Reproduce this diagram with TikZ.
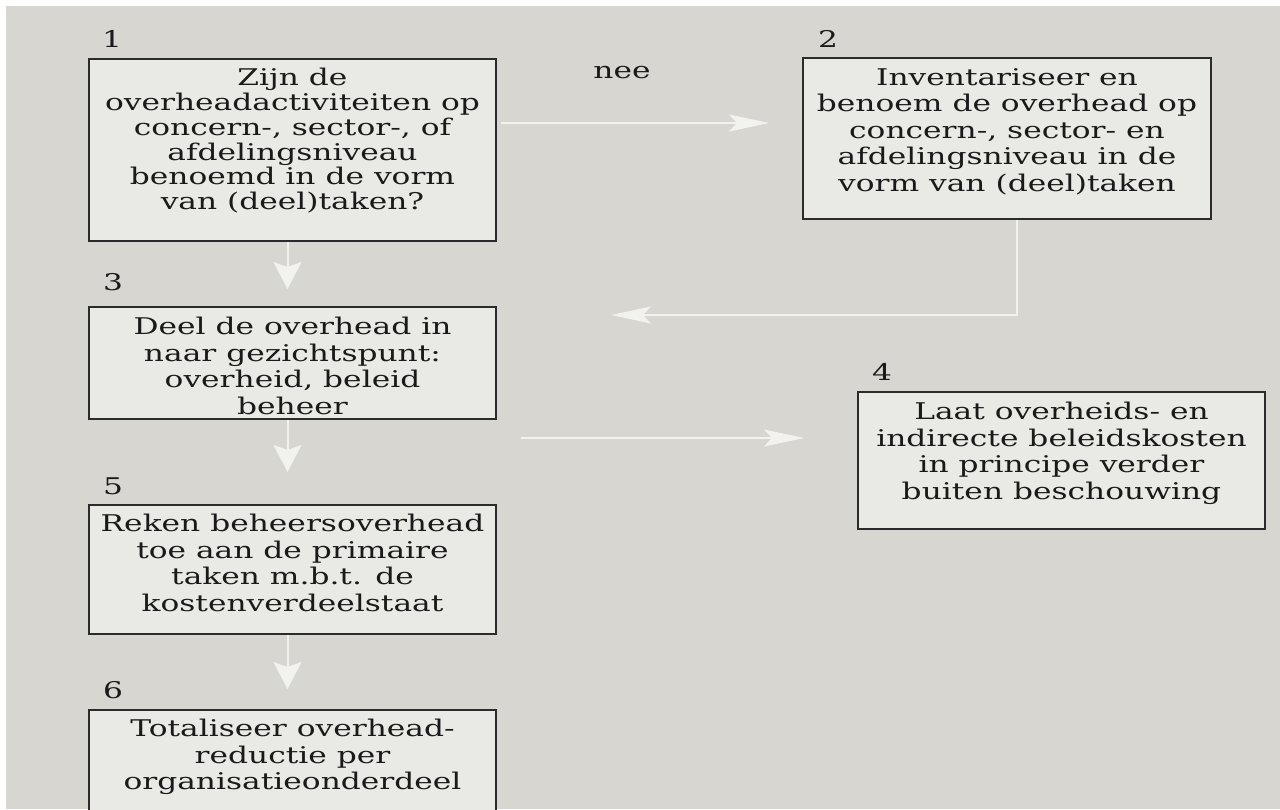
\documentclass[tikz,border=0pt]{standalone}
\usepackage{fontspec}
\setmainfont{DejaVu Serif}[FakeStretch=1.36]
\usetikzlibrary{arrows.meta,calc}
\definecolor{bg}{HTML}{D8D6D1}
\definecolor{boxfill}{HTML}{E9E9E5}
\definecolor{edge}{HTML}{2B2B2B}
\definecolor{arr}{HTML}{F2F2EE}
\definecolor{ink}{HTML}{1A1A1A}
\begin{document}
\begin{tikzpicture}[x=1pt,y=-1pt,
 box/.style={draw=edge,fill=boxfill,line width=2pt,inner sep=0pt,minimum width=407pt},
 txt/.style={anchor=north,align=center,inner sep=0pt,text=ink,font=\fontsize{23}{26.5}\selectfont},
 num/.style={anchor=base,inner sep=0pt,text=ink,font=\fontsize{23}{26.5}\selectfont},
 flow/.style={draw=arr,line width=2pt},
 harrow/.style={flow,-{Stealth[length=40pt,width=17pt,inset=8pt,fill=arr]}},
 varrow/.style={flow,-{Stealth[length=27pt,width=28pt,inset=5pt,fill=arr]}}]
\useasboundingbox (0,0) rectangle (1280,809);
\fill[white] (0,0) rectangle (1280,809);
\fill[bg] (6,6) rectangle (1280,809);
\clip (0,0) rectangle (1280,809);

\node[box,minimum height=182pt] (b1) at (292.5,150) {};
\node[box,minimum width=408pt,minimum height=161pt] (b2) at (1007,138.5) {};
\node[box,minimum height=112pt] (b3) at (292.5,363) {};
\node[box,minimum height=137pt] (b4) at (1061.5,460.5) {};
\node[box,minimum height=129pt] (b5) at (292.5,569.5) {};
\node[box,minimum height=140pt] (b6) at (292.5,780) {};

\node[txt,font=\fontsize{23}{24.8}\selectfont] (t1) at ($(b1.north)+(0,10)$) {Zijn de\\overheadactiviteiten op\\concern-, sector-, of\\afdelingsniveau\\benoemd in de vorm\\van (deel)taken?};
\node[txt] (t2) at ($(b2.north)+(0,11)$) {Inventariseer en\\benoem de overhead op\\concern-, sector- en\\afdelingsniveau in de\\vorm van (deel)taken};
\node[txt] (t3) at ($(b3.north)+(0,11)$) {Deel de overhead in\\naar gezichtspunt:\\overheid, beleid\\beheer};
\node[txt] (t4) at ($(b4.north)+(0,11)$) {Laat overheids- en\\indirecte beleidskosten\\in principe verder\\buiten beschouwing};
\node[txt] (t5) at ($(b5.north)+(0,10)$) {Reken beheersoverhead\\toe aan de primaire\\taken m.b.t. de\\kostenverdeelstaat};
\node[txt] (t6) at ($(b6.north)+(0,10)$) {Totaliseer overhead-\\reductie per\\organisatieonderdeel};

\node[num] (n1) at (112,47) {1};
\node[num] (n2) at (828,47) {2};
\node[num] (n3) at (113,290) {3};
\node[num] (n4) at (882,380) {4};
\node[num] (n5) at (113,494) {5};
\node[num] (n6) at (113,698) {6};
\node[num] (nee) at (622,78) {nee};

\draw[harrow] ($(b1.north east)+(4,65)$) -- ($(b2.north west)+(-33,66)$);
\draw[harrow] ($(b2.south)+(10,0)$) |- ($(b3.north east)+(114,9)$);
\draw[harrow] ($(b3.south east)+(24,18)$) -- ($(b4.north west)+(-53,47)$);
\draw[varrow,shorten >=17pt] ([xshift=-5pt]b1.south) -- ([xshift=-5pt]b3.north);
\draw[varrow,shorten >=32pt] ([xshift=-5pt]b3.south) -- ([xshift=-5pt]b5.north);
\draw[varrow,shorten >=20pt] ([xshift=-5pt]b5.south) -- ([xshift=-5pt]b6.north);
\end{tikzpicture}
\end{document}
